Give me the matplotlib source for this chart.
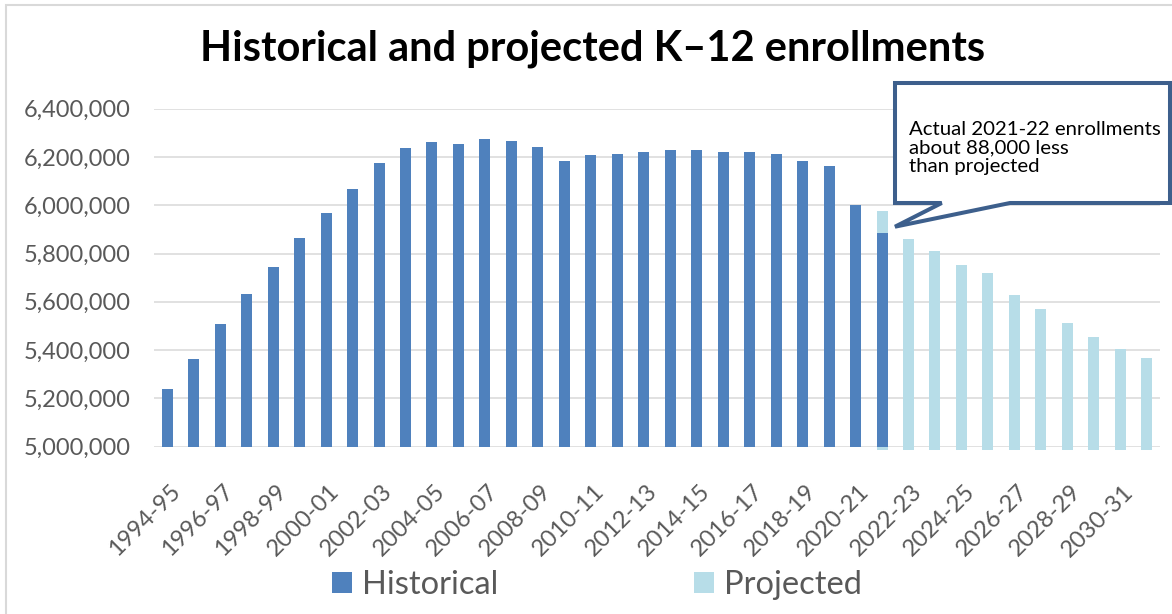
import matplotlib.pyplot as plt
import numpy as np
from matplotlib.patches import Polygon, Rectangle
from matplotlib.transforms import ScaledTranslation

plt.rcParams['font.family'] = ['Lato', 'DejaVu Sans']

# Data
school_years = [f"{y}-{str(y + 1)[-2:]}" for y in range(1994, 2032)]
historical = [5239000, 5363000, 5508000, 5632000, 5743000, 5863000, 5967000,
              6066000, 6174000, 6236000, 6261000, 6252000, 6273000, 6265000,
              6240000, 6182000, 6207000, 6211000, 6219000, 6228000, 6228000,
              6219000, 6219000, 6211000, 6182000, 6161000, 6000000, 5887000]
# projections start at 2021-22
projected = [5975000, 5861000, 5811000, 5753000, 5720000, 5629000, 5571000,
             5513000, 5455000, 5405000, 5368000]

W, H = 1172, 614
def fx(px):
    return px / W
def fy(py):
    return 1 - py / H

fig = plt.figure(figsize=(W / 100, H / 100), dpi=100)
fig.patches.append(Rectangle((fx(5.5), -0.2), 1.2, fy(5.5) + 0.2, transform=fig.transFigure,
                             fill=False, edgecolor='#D9D9D9', lw=1.5))
ax = fig.add_axes([fx(154), fy(446.7), fx(1160) - fx(154), fy(108.7) - fy(446.7)])

x_all = np.arange(len(school_years))
x_hist = np.arange(len(historical))
x_proj = np.arange(len(historical) - 1, len(historical) - 1 + len(projected))
width = 0.415
base = 4988000
hp = ax.bar(x_proj, np.array(projected) - base, width, bottom=base, color='#B7DDE8',
            label='Projected', clip_on=False, zorder=2)
hh = ax.bar(x_hist, historical, width, color='#4F81BD', label='Historical', zorder=3)

ax.set_xlim(-0.5, len(school_years) - 0.5)
ax.set_ylim(5000000, 6400000)
yt = np.arange(5000000, 6400001, 200000)
ax.set_yticks(yt)
ax.set_yticklabels([f"{v:,.0f}" for v in yt])
ax.yaxis.grid(True, color='#D9D9D9', lw=1.1)
ax.set_axisbelow(True)
for s in ax.spines.values():
    s.set_visible(False)
ax.tick_params(axis='both', length=0, labelsize=17, labelcolor='#595959')
ax.tick_params(axis='y', pad=17)
ax.tick_params(axis='x', pad=30)
ax.set_xticks(x_all[::2])
ax.set_xticklabels(school_years[::2], rotation=45, ha='right', va='center',
                   rotation_mode='anchor')
off = ScaledTranslation(10 / 100, 0, fig.dpi_scale_trans)
for lbl in ax.get_xticklabels():
    lbl.set_transform(lbl.get_transform() + off)

fig.text(fx(593), fy(61), 'Historical and projected K\u201312 enrollments',
         ha='center', va='baseline', fontsize=30, fontweight='bold', color='black')

leg = fig.legend([hh, hp], ['Historical', 'Projected'], loc='center',
                 bbox_to_anchor=(fx(597), fy(585)), ncol=2, frameon=False,
                 fontsize=23.5, labelcolor='#595959', handlelength=0.62,
                 handleheight=0.58, handletextpad=0.3, columnspacing=6.0,
                 borderpad=0, borderaxespad=0)

# callout box
pts = [(895, 83), (1170, 83), (1170, 203), (1010, 203), (895, 226.7),
       (941.7, 203), (895, 203)]
fig.patches.append(Polygon([(fx(a), fy(b)) for a, b in pts], closed=True,
                           transform=fig.transFigure, facecolor='white',
                           edgecolor='#3D5F8C', lw=2.9, zorder=5))
fig.text(fx(909), fy(148.3), 'Actual 2021-22 enrollments\nabout 88,000 less\nthan projected',
         ha='left', va='center', fontsize=14.7, linespacing=1.12, color='black', zorder=6)

fig.savefig('out.png', dpi=100)
